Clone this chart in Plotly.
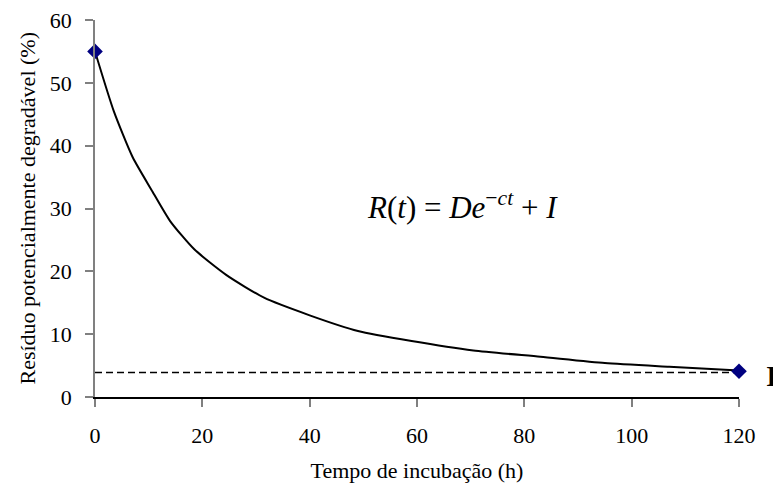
import plotly.graph_objects as go

# Data
t_curve = [0, 3.5, 7, 10.5, 14, 18.5, 24.5, 31.5, 40, 49, 59, 70.5, 83, 95, 107, 120]
r_curve = [55, 45.5, 38.2, 33.0, 28.0, 23.5, 19.4, 15.8, 13.0, 10.5, 8.9, 7.4, 6.4, 5.4, 4.8, 4.2]
t_points = [0, 120]
r_points = [55, 4.1]
i_level = 3.9
x_ticks = [0, 20, 40, 60, 80, 100, 120]
y_ticks = [0, 10, 20, 30, 40, 50, 60]

serif = "Liberation Serif, Times New Roman, serif"

fig = go.Figure()
fig.add_trace(go.Scatter(x=[t_points[0], t_points[-1]], y=[i_level, i_level], mode="lines",
                         line=dict(color="black", width=1.5, dash="7px,4px"), hoverinfo="skip"))
fig.add_trace(go.Scatter(x=t_curve, y=r_curve, mode="lines",
                         line=dict(color="black", width=2, shape="spline", smoothing=0.6)))
fig.add_trace(go.Scatter(x=t_points, y=r_points, mode="markers", cliponaxis=False,
                         marker=dict(symbol="diamond", size=12, color="#000080")))

fig.add_annotation(x=68.4, y=30.4, xref="x", yref="y", showarrow=False,
                   text="<i>R</i>(<i>t</i>) = <i>De</i><sup>−<i>ct</i></sup> + <i>I</i>",
                   font=dict(family=serif, size=31, color="black"))
fig.add_annotation(x=120, y=i_level - 0.5, xref="x", yref="y", showarrow=False, xanchor="left",
                   xshift=25, text="<b>I</b>", font=dict(family=serif, size=30, color="black"))
fig.add_annotation(x=0, y=0.5, xref="paper", yref="paper", showarrow=False, textangle=-90,
                   xanchor="center", yanchor="middle", xshift=-68,
                   text="Resíduo potencialmente degradável (%)",
                   font=dict(family=serif, size=22, color="black"))

fig.update_layout(
    width=773, height=491, plot_bgcolor="white", paper_bgcolor="white",
    margin=dict(l=95, r=34, t=20, b=94), showlegend=False,
    font=dict(family=serif, size=22, color="black"),
)
fig.update_xaxes(range=[0, 120], tickvals=x_ticks, showgrid=False, zeroline=False,
                 showline=True, linecolor="black", linewidth=1.5, automargin=False,
                 ticks="outside", ticklen=8, tickcolor="#808080", tickwidth=1.5,
                 ticklabelstandoff=10,
                 tickfont=dict(family=serif, size=22),
                 title=dict(text="Tempo de incubação (h)", font=dict(family=serif, size=22)))
fig.update_yaxes(range=[0, 60], tickvals=y_ticks, showgrid=False, zeroline=False,
                 showline=True, linecolor="#808080", linewidth=1.5, automargin=False,
                 ticks="outside", ticklen=8, tickcolor="#808080", tickwidth=1.5,
                 ticklabelstandoff=9,
                 tickfont=dict(family=serif, size=22))

fig.write_html("out.html")
